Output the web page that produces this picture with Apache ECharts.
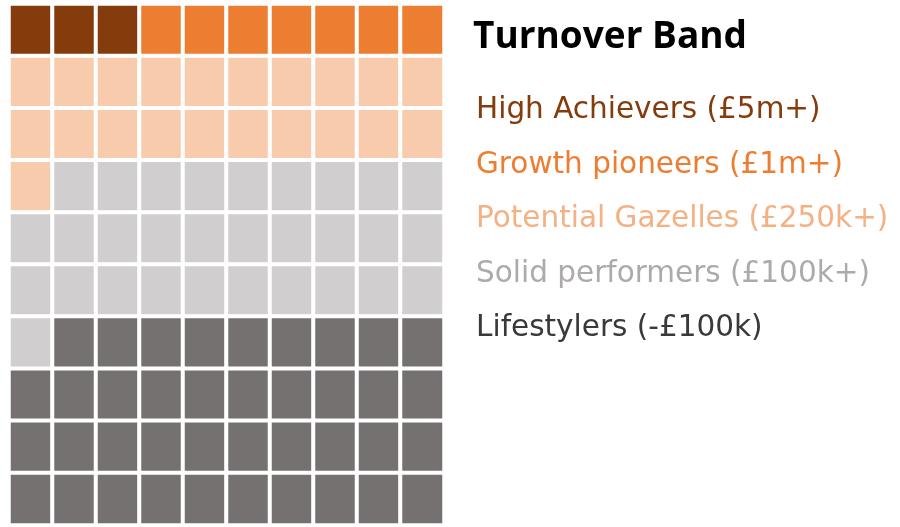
<!DOCTYPE html>
<html>
<head>
<meta charset="utf-8">
<script src="https://cdn.jsdelivr.net/npm/echarts@6/dist/echarts.min.js"></script>
<style>
* { margin: 0; padding: 0; }
html, body { background: #fff; }
</style>
</head>
<body>
<div id="waffle" style="width: 900px;height: 527px;"></div>
<script>
// bands, top to bottom
const bands = ['High Achievers (£5m+)', 'Growth pioneers (£1m+)', 'Potential Gazelles (£250k+)', 'Solid performers (£100k+)', 'Lifestylers (-£100k)']
const counts = [3, 7, 21, 30, 39] // squares out of 100
const cellColors = ['#843C0C', '#ED7D31', '#F8CBAD', '#D0CECE', '#767171']
const textColors = ['#843C0C', '#ED7D31', '#F4B183', '#AEAAAA', '#3B3838']
const cols = ['0', '1', '2', '3', '4', '5', '6', '7', '8', '9']
const rows = ['0', '1', '2', '3', '4', '5', '6', '7', '8', '9']

// fill the 10x10 grid row by row from the top left
let cells = bands.map(() => [])
let k = 0
counts.forEach((n, b) => {
    for (let i = 0; i < n; i++) {
        cells[b].push([k % 10, Math.floor(k / 10), 1])
        k++
    }
})

const chart = echarts.init(document.getElementById('waffle'))
chart.setOption({
    animation: false,
    title: {
        text: 'Turnover Band',
        left: 468,
        top: 14,
        textStyle: {
            fontFamily: 'Open Sans',
            fontWeight: 'bold',
            fontSize: 37,
            color: '#000'
        }
    },
    legend: {
        orient: 'vertical',
        left: 466,
        top: 90,
        icon: 'none',
        itemWidth: 0,
        itemHeight: 10,
        itemGap: 23.5,
        selectedMode: false,
        textStyle: {
            fontFamily: 'DejaVu Sans',
            fontSize: 29.5,
            lineHeight: 31,
            padding: 0
        },
        data: bands.map((name, i) => ({ name: name, textStyle: { color: textColors[i] } }))
    },
    grid: {
        left: 9,
        top: 4,
        width: 435,
        height: 521
    },
    xAxis: {
        type: 'category',
        data: cols,
        show: false
    },
    yAxis: {
        type: 'category',
        data: rows,
        inverse: true,
        show: false
    },
    series: bands.map((name, i) => ({
        name: name,
        type: 'heatmap',
        data: cells[i],
        itemStyle: {
            color: cellColors[i],
            borderColor: '#fff',
            borderWidth: 4
        },
        emphasis: { disabled: true }
    }))
})
</script>
</body>
</html>
